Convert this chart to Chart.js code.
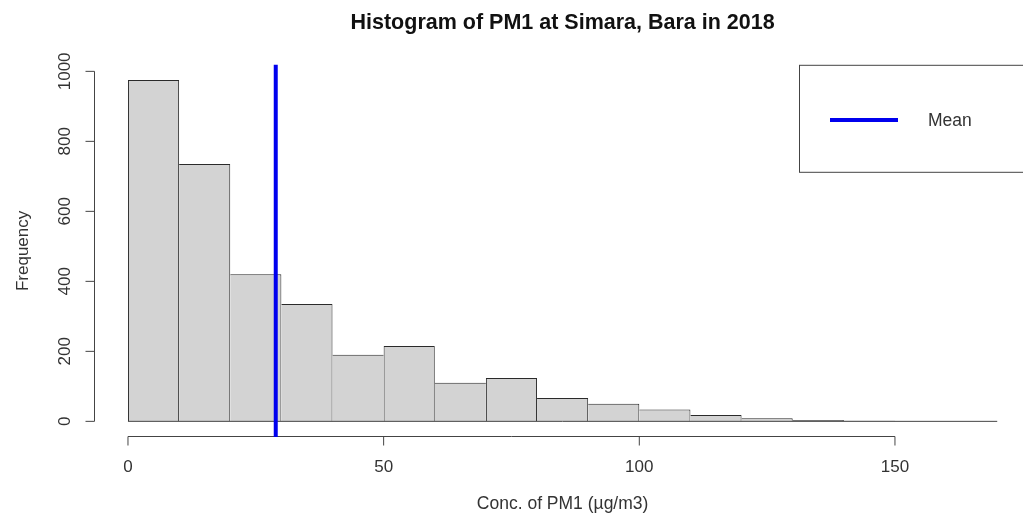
<!DOCTYPE html>
<html><head><meta charset="utf-8">
<script src="https://cdn.jsdelivr.net/npm/chart.js@4.4.1/dist/chart.umd.min.js"></script>
<style>html,body{margin:0;padding:0;background:#fff;overflow:hidden;width:1023px;height:522px}</style>
</head><body>
<div style="position:relative;width:1032px;height:522px"><canvas id="c"></canvas></div>
<script>
// ---- data ----
const binStarts = [0, 10, 20, 30, 40, 50, 60, 70, 80, 90, 100, 110, 120, 130, 140];
const binWidth = 10;
const counts = [975, 735, 420, 335, 190, 215, 110, 124, 67, 50, 34, 18, 9, 4, 2];
const histRange = [0, 170];
const meanValue = 28.9;
const xTicks = [0, 50, 100, 150];
const yTicks = [0, 200, 400, 600, 800, 1000];
const xLimits = [-6.8, 176.8];
const yLimits = [-39, 1013];
const titleText = 'Histogram of PM1 at Simara, Bara in 2018';
const xLabel = 'Conc. of PM1 (µg/m3)';
const yLabel = 'Frequency';
const legendLabel = 'Mean';

const FONT = '"Liberation Sans", Arial, sans-serif';
const AXIS_COL = '#444';
const BAR_EDGE = '#2a2a2a';
const TEXT_COL = '#333';
const MEAN_COL = '#0000ee';

const barData = binStarts.map((s, i) => ({ x: s + binWidth / 2, y: counts[i] }));

function barBorder(ctx) {
  const i = ctx.dataIndex;
  const v = counts[i];
  const prev = i > 0 ? counts[i - 1] : -1;
  const next = i < counts.length - 1 ? counts[i + 1] : -1;
  return { top: 1, bottom: 0, left: prev < v ? 1 : 0, right: next <= v ? 1 : 0 };
}

const rAxes = {
  id: 'rAxes',
  beforeDatasetsDraw(chart) {
    const { ctx, chartArea: a, scales: { x, y } } = chart;
    ctx.save();
    ctx.strokeStyle = AXIS_COL;
    ctx.lineWidth = 1;
    const yp = Math.round(a.bottom + 1) + 0.5;
    const x0 = x.getPixelForValue(xTicks[0]), x1 = x.getPixelForValue(xTicks[xTicks.length - 1]);
    ctx.beginPath();
    ctx.moveTo(x0, yp); ctx.lineTo(x1, yp);
    xTicks.forEach(t => { const px = x.getPixelForValue(t); ctx.moveTo(px, yp); ctx.lineTo(px, yp + 9); });
    const xp = Math.round(a.left + 1) + 0.5;
    const y0 = y.getPixelForValue(yTicks[0]), y1 = y.getPixelForValue(yTicks[yTicks.length - 1]);
    ctx.moveTo(xp, y0); ctx.lineTo(xp, y1);
    yTicks.forEach(t => { const py = y.getPixelForValue(t); ctx.moveTo(xp, py); ctx.lineTo(xp - 9, py); });
    ctx.stroke();
    ctx.restore();
  }
};

const rLegend = {
  id: 'rLegend',
  afterDraw(chart) {
    const { ctx, chartArea: a } = chart;
    ctx.save();
    const left = 799.5, top = a.top - 1.5, bottom = top + 107;
    ctx.strokeStyle = AXIS_COL;
    ctx.lineWidth = 1;
    ctx.strokeRect(left, top, a.right - left, bottom - top);
    ctx.strokeStyle = MEAN_COL;
    ctx.lineWidth = 4;
    ctx.beginPath();
    ctx.moveTo(830, 120); ctx.lineTo(898, 120);
    ctx.stroke();
    ctx.fillStyle = TEXT_COL;
    ctx.font = '17.5px ' + FONT;
    ctx.textBaseline = 'middle';
    ctx.textAlign = 'left';
    ctx.fillText(legendLabel, 928, 121);
    ctx.restore();
  }
};

new Chart(document.getElementById('c'), {
  type: 'bar',
  data: {
    datasets: [
      {
        type: 'line', label: legendLabel, order: 0, clip: false,
        data: [{ x: meanValue, y: yLimits[0] }, { x: meanValue, y: yLimits[1] }],
        borderColor: MEAN_COL, borderWidth: 4, borderCapStyle: 'square', pointRadius: 0
      },
      {
        type: 'line', label: 'baseline', order: 1,
        data: [{ x: histRange[0], y: 0 }, { x: histRange[1], y: 0 }],
        borderColor: AXIS_COL, borderWidth: 1, pointRadius: 0
      },
      {
        type: 'bar', label: 'Frequency', order: 2,
        data: barData,
        backgroundColor: '#d3d3d3', borderColor: BAR_EDGE,
        borderWidth: barBorder, borderSkipped: false, inflateAmount: 0,
        barPercentage: 1, categoryPercentage: 1
      }
    ]
  },
  options: {
    responsive: true, maintainAspectRatio: false, animation: false,
    devicePixelRatio: 1,
    layout: { padding: { left: 0, right: 0, top: 0, bottom: 0 } },
    plugins: {
      legend: { display: false },
      tooltip: { enabled: false },
      title: {
        display: true, text: titleText, fullSize: false, color: '#111',
        font: { family: FONT, size: 21.5, weight: 'bold' },
        padding: { top: 10, bottom: 31 }
      }
    },
    scales: {
      x: {
        type: 'linear', min: xLimits[0], max: xLimits[1], offset: false,
        afterBuildTicks: s => { s.ticks = xTicks.map(v => ({ value: v })); },
        afterFit: s => { s.height = 87; },
        grid: { display: false, drawTicks: false, offset: false },
        border: { display: false },
        ticks: { color: TEXT_COL, font: { family: FONT, size: 17 }, padding: 22, autoSkip: false, maxRotation: 0, callback: v => String(v) },
        title: { display: true, text: xLabel, color: TEXT_COL, font: { family: FONT, size: 17.5 }, padding: { top: 0, bottom: 7 } }
      },
      y: {
        type: 'linear', min: yLimits[0], max: yLimits[1],
        afterBuildTicks: s => { s.ticks = yTicks.map(v => ({ value: v })); },
        afterFit: s => { s.width = 93.2; },
        grid: { display: false, drawTicks: false },
        border: { display: false },
        ticks: { color: TEXT_COL, font: { family: FONT, size: 17 }, padding: 9, minRotation: 90, maxRotation: 90, crossAlign: 'center', autoSkip: false, callback: v => String(v) },
        title: { display: true, text: yLabel, color: TEXT_COL, font: { family: FONT, size: 17 }, padding: { top: 13, bottom: 0 } }
      }
    }
  },
  plugins: [rAxes, rLegend]
});
</script>
</body></html>
